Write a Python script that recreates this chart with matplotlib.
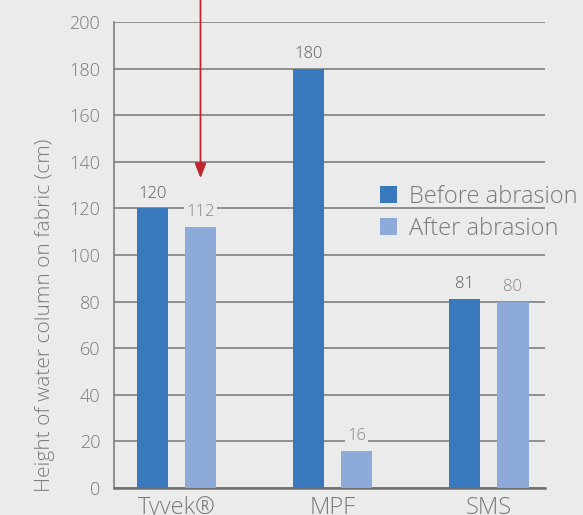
import matplotlib.pyplot as plt
import numpy as np

fabrics = ["Tyvek®", "MPF", "SMS"]
before = [120, 180, 81]
after = [112, 16, 80]
series_names = ["Before abrasion", "After abrasion"]

bg = "#ebebeb"
dark_blue = "#3a78bd"
light_blue = "#8eaad8"
grid_col = "#808080"
text_col = "#7a7a7a"

plt.rcParams['font.family'] = ['Open Sans', 'DejaVu Sans']
plt.rcParams['font.weight'] = 'light'

fig = plt.figure(figsize=(5.83, 5.15), dpi=100, facecolor=bg)
ax = fig.add_axes([0.1955, 0.0524, 0.7395, 0.9046], facecolor=bg)

x = np.arange(len(fabrics))
w = 0.2
off = 0.154

ax.bar(x - off, before, w, color=dark_blue, label=series_names[0], zorder=3)
ax.bar(x + off, after, w, color=light_blue, label=series_names[1], zorder=3)

for xi, v in zip(x - off, before):
    ax.text(xi, v + 3, str(v), ha="center", va="bottom", fontsize=12,
            color="#5a5a5a", zorder=4,
            bbox=dict(facecolor=bg, edgecolor="none", pad=1.5))
for xi, v in zip(x + off, after):
    ax.text(xi, v + 3, str(v), ha="center", va="bottom", fontsize=12,
            color="#858585", zorder=4,
            bbox=dict(facecolor=bg, edgecolor="none", pad=1.5))

ax.set_ylim(0, 200)
ax.set_xlim(-0.40, 2.36)
ax.set_yticks(range(0, 201, 20))
ax.set_xticks(x)
ax.set_xticklabels(fabrics)
ax.tick_params(axis="y", length=0, pad=10, labelsize=13, labelcolor=text_col)
ax.tick_params(axis="x", length=0, pad=6, labelsize=17, labelcolor=text_col)

ax.grid(axis="y", color=grid_col, linewidth=1.2, zorder=0)
ax.set_axisbelow(True)
for s in ["top", "right"]:
    ax.spines[s].set_visible(False)
ax.spines["left"].set_color(grid_col)
ax.spines["left"].set_linewidth(1.2)
ax.spines["bottom"].set_color("#6f6f6f")
ax.spines["bottom"].set_linewidth(1.8)

fig.text(45 / 583, 1 - 315 / 515, "Height of water column on fabric (cm)",
         rotation=90, ha="center", va="center", fontsize=15, color=text_col)

ax.legend(loc="center left", bbox_to_anchor=(0.616, 0.591), frameon=False,
          fontsize=17, handlelength=0.75, handleheight=0.75,
          handletextpad=0.5, labelspacing=0.35, labelcolor=text_col,
          borderaxespad=0, borderpad=0)

# red arrow pointing down at Tyvek after abrasion
ax.annotate("", xy=(off, 133), xycoords="data",
            xytext=(off, 1.0), textcoords=("data", "figure fraction"),
            arrowprops=dict(arrowstyle="-|>,head_length=0.9,head_width=0.35",
                            color="#c0272d", lw=1.3, shrinkA=0, shrinkB=0),
            annotation_clip=False, zorder=5)

fig.savefig("out.png", dpi=100, facecolor=bg)
